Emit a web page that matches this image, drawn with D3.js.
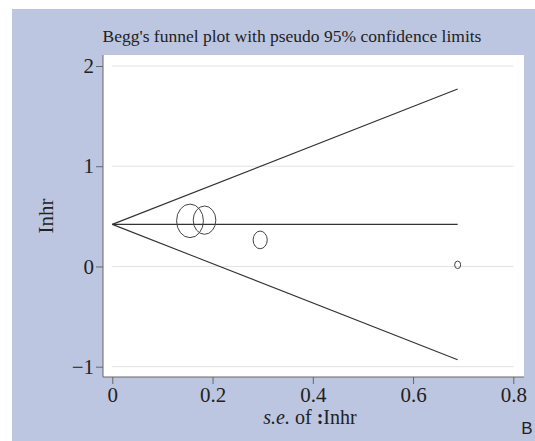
<!DOCTYPE html>
<html>
<head>
<meta charset="utf-8">
<script src="https://cdn.jsdelivr.net/npm/d3@7"></script>
<style>
    body { margin: 0; background: #fff; }
    svg { display: block; }
    text { font-family: "Liberation Serif", "DejaVu Serif", serif; fill: #222; }
</style>
</head>
<body>
<div id="chart"></div>
<script>
// 研究数据 - 每项研究的标准误和 lnhr
const studySe = [0.155, 0.184, 0.295, 0.689];
const studyLnhr = [0.455, 0.462, 0.265, 0.016];

// 合并效应值与漏斗范围
const pooledLnhr = 0.42;
const funnelSeMax = 0.689;

// 坐标轴刻度
const xTicks = [0, 0.2, 0.4, 0.6, 0.8];
const xTickLabels = ['0', '0.2', '0.4', '0.6', '0.8'];
const yTicks = [-1, 0, 1, 2];
const yTickLabels = ['\u22121', '0', '1', '2'];

const width = 535, height = 441;

const svg = d3.select('#chart')
    .append('svg')
    .attr('width', width)
    .attr('height', height);

// 背景
svg.append('rect')
    .attr('x', 12).attr('y', 9)
    .attr('width', width - 12).attr('height', height - 9)
    .attr('fill', '#bcc6e1');

// 绘图区
const plot = { left: 103, top: 55, right: 524, bottom: 377 };
svg.append('rect')
    .attr('x', plot.left).attr('y', plot.top)
    .attr('width', plot.right - plot.left).attr('height', plot.bottom - plot.top)
    .attr('fill', '#fff');

// 比例尺
const x = d3.scaleLinear().domain([0, 0.8]).range([112.3, 513.3]);
const y = d3.scaleLinear().domain([-1, 2]).range([366.7, 66]);
const r = d3.scaleLinear().domain([0, 1]).range([0, 2.6]); // 半径 ∝ 1/se

// 网格线
svg.append('g')
    .selectAll('line')
    .data(yTicks)
    .enter()
    .append('line')
    .attr('x1', x(0)).attr('x2', x(0.8))
    .attr('y1', d => y(d)).attr('y2', d => y(d))
    .attr('stroke', '#e2e2e2')
    .attr('stroke-width', 1);

// 坐标轴边线
svg.append('line')
    .attr('x1', plot.left).attr('x2', plot.left)
    .attr('y1', plot.top).attr('y2', plot.bottom)
    .attr('stroke', '#666');
svg.append('line')
    .attr('x1', plot.left).attr('x2', plot.right)
    .attr('y1', plot.bottom).attr('y2', plot.bottom)
    .attr('stroke', '#666');

// X轴
const xAxis = svg.append('g')
    .attr('transform', `translate(0,${plot.bottom})`)
    .call(d3.axisBottom(x)
        .tickValues(xTicks)
        .tickFormat((d, i) => xTickLabels[i])
        .tickSize(7)
        .tickPadding(3));
xAxis.select('.domain').remove();
xAxis.selectAll('line').attr('stroke', '#666');
xAxis.selectAll('text')
    .style('font-family', '"Liberation Serif", serif')
    .style('font-size', '21px')
    .attr('fill', '#222');

// Y轴
const yAxis = svg.append('g')
    .attr('transform', `translate(${plot.left},0)`)
    .call(d3.axisLeft(y)
        .tickValues(yTicks)
        .tickFormat((d, i) => yTickLabels[i])
        .tickSize(7)
        .tickPadding(2));
yAxis.select('.domain').remove();
yAxis.selectAll('line').attr('stroke', '#666');
yAxis.selectAll('text')
    .style('font-family', '"Liberation Serif", serif')
    .style('font-size', '21px')
    .attr('fill', '#222');

// 漏斗线
const lineColor = '#333';
const funnel = [
    [[0, pooledLnhr], [funnelSeMax, pooledLnhr + 1.96 * funnelSeMax]],
    [[0, pooledLnhr], [funnelSeMax, pooledLnhr]],
    [[0, pooledLnhr], [funnelSeMax, pooledLnhr - 1.96 * funnelSeMax]]
];
const line = d3.line().x(d => x(d[0])).y(d => y(d[1]));
svg.append('g')
    .selectAll('path')
    .data(funnel)
    .enter()
    .append('path')
    .attr('d', line)
    .attr('fill', 'none')
    .attr('stroke', lineColor)
    .attr('stroke-width', 1.1);

// 研究点
svg.append('g')
    .selectAll('ellipse')
    .data(studySe.map((se, i) => ({ se: se, lnhr: studyLnhr[i] })))
    .enter()
    .append('ellipse')
    .attr('cx', d => x(d.se))
    .attr('cy', d => y(d.lnhr))
    .attr('rx', d => r(1 / d.se) * 0.8)
    .attr('ry', d => r(1 / d.se))
    .attr('fill', 'none')
    .attr('stroke', '#444')
    .attr('stroke-width', 1);

// 标题
svg.append('text')
    .attr('x', 292).attr('y', 42)
    .attr('text-anchor', 'middle')
    .style('font-size', '17.5px')
    .text("Begg's funnel plot with pseudo 95% confidence limits");

// Y轴标题
svg.append('text')
    .attr('transform', `translate(53,${(plot.top + plot.bottom) / 2}) rotate(-90)`)
    .attr('text-anchor', 'middle')
    .style('font-size', '21px')
    .text('Inhr');

// X轴标题
const xTitle = svg.append('text')
    .attr('x', 310).attr('y', 424)
    .attr('text-anchor', 'middle')
    .style('font-size', '20px');
xTitle.append('tspan').style('font-style', 'italic').text('s.e.');
xTitle.append('tspan').text(' of ');
xTitle.append('tspan').style('font-weight', 'bold').text(':');
xTitle.append('tspan').text('Inhr');

// 角标
svg.append('text')
    .attr('x', 527).attr('y', 434)
    .attr('text-anchor', 'middle')
    .style('font-family', '"Liberation Sans", Arial, sans-serif')
    .style('font-size', '17px')
    .text('B');
</script>
</body>
</html>
